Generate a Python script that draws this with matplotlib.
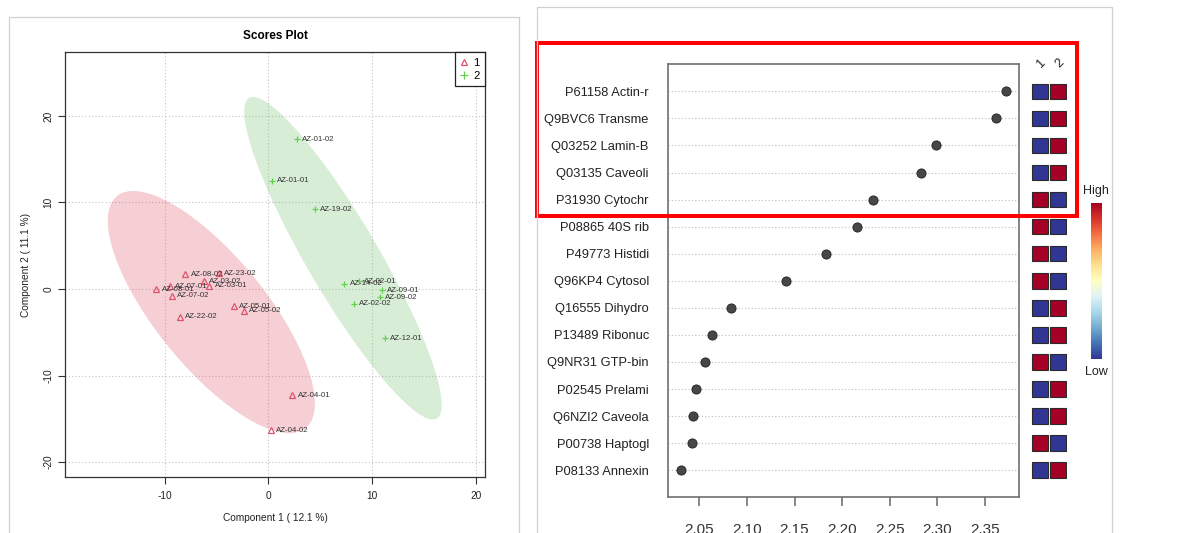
import numpy as np
import matplotlib
matplotlib.use("Agg")
import matplotlib.pyplot as plt
from matplotlib.patches import Ellipse, Rectangle
from matplotlib.lines import Line2D

plt.rcParams['font.family'] = ['Liberation Sans', 'DejaVu Sans']
plt.rcParams['axes.unicode_minus'] = False

# ---------------- PLS-DA scores ----------------
g1_names = ["AZ-08-02", "AZ-23-02", "AZ-03-02", "AZ-03-01", "AZ-07-01", "AZ-08-01",
            "AZ-07-02", "AZ-05-01", "AZ-05-02", "AZ-22-02", "AZ-04-01", "AZ-04-02"]
g1_x = [-8.0, -4.8, -6.2, -5.7, -9.5, -10.8, -9.3, -3.3, -2.4, -8.5, 2.3, 0.2]
g1_y = [1.7, 1.8, 0.9, 0.4, 0.3, 0.0, -0.8, -2.0, -2.5, -3.2, -12.3, -16.3]

g2_names = ["AZ-01-02", "AZ-01-01", "AZ-19-02", "AZ-14-02", "AZ-02-01",
            "AZ-09-01", "AZ-09-02", "AZ-02-02", "AZ-12-01"]
g2_x = [2.7, 0.3, 4.5, 7.3, 8.7, 10.9, 10.75, 8.2, 11.2]
g2_y = [17.3, 12.5, 9.2, 0.6, 0.9, -0.15, -0.95, -1.7, -5.7]

group_labels = ["1", "2"]
x_label = "Component 1 ( 12.1 %)"
y_label = "Component 2 ( 11.1 %)"

# ---------------- VIP scores ----------------
features = ["P61158 Actin-r", "Q9BVC6 Transme", "Q03252 Lamin-B", "Q03135 Caveoli",
            "P31930 Cytochr", "P08865 40S rib", "P49773 Histidi", "Q96KP4 Cytosol",
            "Q16555 Dihydro", "P13489 Ribonuc", "Q9NR31 GTP-bin", "P02545 Prelami",
            "Q6NZI2 Caveola", "P00738 Haptogl", "P08133 Annexin"]
vip = [2.372, 2.362, 2.299, 2.283, 2.232, 2.216, 2.183, 2.141,
       2.083, 2.063, 2.056, 2.046, 2.043, 2.042, 2.031]
# relative level per group (1 = high, 0 = low)
level_g1 = [0, 0, 0, 0, 1, 1, 1, 1, 0, 0, 1, 0, 0, 1, 0]
level_g2 = [1, 1, 1, 1, 0, 0, 0, 0, 1, 1, 0, 1, 1, 0, 1]
vip_ticks = [2.05, 2.10, 2.15, 2.20, 2.25, 2.30, 2.35]

W, H = 1188, 533
fig = plt.figure(figsize=(W / 100, H / 100), dpi=100)
fig.patch.set_facecolor("white")


def box(l, t, r, b):
    return [l / W, 1 - b / H, (r - l) / W, (b - t) / H]


def fig_line(xs, ys, **kw):
    fig.add_artist(Line2D([x / W for x in xs], [1 - y / H for y in ys],
                          transform=fig.transFigure, **kw))


# panel frames
fig_line([8.5, 8.5, 519, 519], [545, 17, 17, 545], color="#d0d0d0", lw=0.9)
fig_line([537.3, 537.3, 1112.3, 1112.3], [545, 7.3, 7.3, 545], color="#d0d0d0", lw=0.9)

# ---------------- scores plot ----------------
c1, c2 = "#DF536B", "#61D04F"
ax = fig.add_axes(box(64.9, 52.4, 485, 477))
ax.set_xlim(-19.6, 20.85)
ax.set_ylim(-21.73, 27.35)
ax.set_xticks([-10, 0, 10, 20])
ax.set_yticks([-20, -10, 0, 10, 20])
ax.grid(True, ls=(0, (1, 2)), color="#c4c4c4", lw=0.8)
ax.set_axisbelow(True)


def conf_ellipse(xs, ys, color, alpha):
    pts = np.column_stack([xs, ys])
    mu = pts.mean(axis=0)
    cov = np.cov(pts, rowvar=False)
    vals, vecs = np.linalg.eigh(cov)
    k = -2.0 * np.log(1 - 0.95)  # chi-square quantile, 2 dof
    order = vals.argsort()[::-1]
    vals, vecs = vals[order], vecs[:, order]
    angle = np.degrees(np.arctan2(vecs[1, 0], vecs[0, 0]))
    e = Ellipse(mu, 2 * np.sqrt(k * vals[0]), 2 * np.sqrt(k * vals[1]), angle=angle,
                facecolor=color, alpha=alpha, edgecolor="none", zorder=1)
    ax.add_patch(e)


conf_ellipse(g1_x, g1_y, c1, 0.28)
conf_ellipse(g2_x, g2_y, "#7cc47a", 0.3)

ax.plot(g1_x, g1_y, ls="", marker="^", ms=4.4, mfc="none", mec=c1, mew=0.9, zorder=3)
ax.plot(g2_x, g2_y, ls="", marker="+", ms=5.0, mec=c2, mew=0.9, zorder=3)
for names, xs, ys in ((g1_names, g1_x, g1_y), (g2_names, g2_x, g2_y)):
    for n, x, y in zip(names, xs, ys):
        ax.annotate(n, (x, y), xytext=(3.8, 0), textcoords="offset points",
                    fontsize=5.7, va="center", ha="left", color="#333333", zorder=4)

for s in ax.spines.values():
    s.set_color("#333333")
    s.set_linewidth(0.9)
ax.tick_params(axis="both", length=4.8, width=0.8, color="#333333",
               labelsize=7.3, labelcolor="#222222")
ax.tick_params(axis="x", pad=5)
ax.tick_params(axis="y", pad=3.5)
for t in ax.get_yticklabels():
    t.set_rotation(90)
    t.set_va("center")

ax.set_xlabel(x_label, fontsize=7.3, color="#222222")
ax.xaxis.set_label_coords(0.5, (477 - 518) / 424.6)
ax.xaxis.label.set_va("center")
ax.set_ylabel(y_label, fontsize=7.3, color="#222222")
ax.yaxis.set_label_coords((26.4 - 64.9) / 420.1, 0.5)
ax.yaxis.label.set_va("center")
ax.yaxis.label.set_ha("center")
ax.set_title("Scores Plot", fontsize=8.5, fontweight="bold", pad=10)

leg_handles = [
    Line2D([], [], ls="", marker="^", ms=4.2, mfc="none", mec=c1, mew=0.9, label=group_labels[0]),
    Line2D([], [], ls="", marker="+", ms=5.2, mec=c2, mew=0.9, label=group_labels[1]),
]
leg = ax.legend(handles=leg_handles, loc="upper right", borderaxespad=0, fancybox=False,
                edgecolor="#222222", framealpha=1, fontsize=8.2, handlelength=0.7,
                handletextpad=0.4, borderpad=0.5, labelspacing=0.22)
leg.get_frame().set_linewidth(0.9)

# ---------------- VIP dot chart ----------------
n = len(features)
ypos = np.arange(n, 0, -1)
axv = fig.add_axes(box(668.3, 64.3, 1018.7, 497.3))
axv.set_ylim(0, n + 1)
for y in ypos:
    axv.axhline(y, ls=(0, (1, 2)), color="#bdbdbd", lw=0.8, zorder=1)
axv.scatter(vip, ypos, s=6.6 ** 2, c="#474747", edgecolors="#1e1e1e", linewidths=0.6, zorder=3)
axv.margins(x=0.04)
axv.set_xticks(vip_ticks)
axv.set_xticklabels([f"{v:.2f}" for v in vip_ticks])
axv.set_yticks(ypos)
axv.set_yticklabels(features)
axv.tick_params(axis="y", length=0, pad=14, labelsize=9.3, labelcolor="#222222")
axv.tick_params(axis="x", length=6.5, width=1.1, color="#666666", pad=12,
                labelsize=11, labelcolor="#333333")
for s in axv.spines.values():
    s.set_color("#707070")
    s.set_linewidth(1.2)

# group level squares
cmap = plt.get_cmap("RdYlBu_r")
axh = fig.add_axes(box(1031, 64.3, 1067, 497.3))
axh.set_xlim(0, 2)
axh.set_ylim(0, n + 1)
axh.axis("off")
sw, sh = 15.5 / 18.0, 15.5 / 27.06
for j, levels in enumerate((level_g1, level_g2)):
    for y, lv in zip(ypos, levels):
        axh.add_patch(Rectangle((j + 0.5 - sw / 2, y - sh / 2), sw, sh,
                                facecolor=cmap(float(lv)), edgecolor="#2a2a2a", lw=0.8))
    axh.text(j + 0.6, n + 1.04, group_labels[j], rotation=45, ha="center", va="center",
             fontsize=9.3, color="#222222", clip_on=False)

# colour key
axc = fig.add_axes(box(1090.7, 203.3, 1101.7, 359.3))
axc.imshow(np.linspace(1, 0, 256)[:, None], cmap=cmap, aspect="auto")
axc.axis("off")
fig.text(1096 / W, 1 - 190.7 / H, "High", ha="center", va="center", fontsize=9, color="#222222")
fig.text(1096 / W, 1 - 372.3 / H, "Low", ha="center", va="center", fontsize=9, color="#222222")

# highlight of the top five features
fig.add_artist(Rectangle((537 / W, 1 - 216 / H), (1076.7 - 537) / W, (216 - 43) / H,
                         transform=fig.transFigure, fill=False, edgecolor="#ff0000", lw=2.9))

fig.savefig("out.png", dpi=100, facecolor="white")
